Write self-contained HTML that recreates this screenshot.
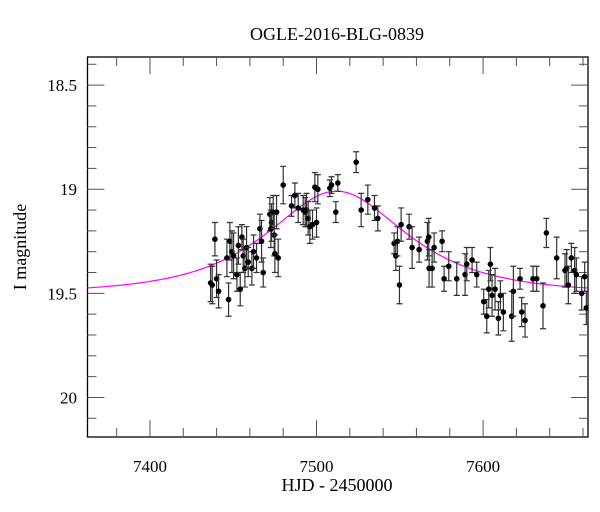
<!DOCTYPE html>
<html><head><meta charset="utf-8"><style>
body{margin:0;background:#fff}
svg{display:block;font-family:"Liberation Serif",serif}
</style></head><body>
<svg id="chart" width="600" height="512" xmlns="http://www.w3.org/2000/svg"></svg>
<script>
const hjd=[7439,7436.4,7437.4,7440,7441.2,7447.2,7446.2,7448,7449.2,7450.2,7452.2,7453.1,7454.2,7455.2,7456,7457,7458,7459,7461.2,7462.2,7464,7466,7467,7468,7472,7473,7472.6,7474,7474.6,7475,7476,7477,7480,7485,7487,7489,7492,7493.2,7494,7495,7496,7497.6,7499,7500,7500.8,7508,7509,7511.6,7512.8,7523.8,7526.8,7530.8,7534.8,7536.8,7546.6,7547.6,7548.6,7549.8,7550.8,7555.6,7557.4,7561.6,7566.6,7567.4,7567.6,7569.4,7570.6,7575.4,7576.6,7579.4,7584.2,7589.2,7590.2,7593.4,7596.2,7600.4,7602.2,7603.4,7604.4,7605.4,7607.2,7609.2,7610.4,7612.2,7617.2,7618.2,7622.2,7623.2,7625.2,7630,7632.2,7636,7638,7644.2,7649.2,7650.2,7651.2,7653,7655,7656,7659.2,7661,7662];
const mag=[19.24,19.45,19.46,19.43,19.49,19.53,19.33,19.25,19.30,19.32,19.41,19.27,19.48,19.23,19.32,19.38,19.28,19.35,19.38,19.30,19.33,19.19,19.25,19.40,19.12,19.16,19.19,19.11,19.22,19.31,19.11,19.33,18.98,19.08,19.03,19.09,19.10,19.11,19.10,19.14,19.18,19.17,18.99,19.16,19.00,18.995,18.98,19.11,18.97,18.87,19.10,19.05,19.09,19.14,19.26,19.32,19.25,19.46,19.17,19.18,19.28,19.29,19.25,19.23,19.38,19.38,19.28,19.25,19.43,19.37,19.43,19.41,19.36,19.34,19.41,19.54,19.61,19.48,19.36,19.51,19.48,19.62,19.51,19.59,19.61,19.49,19.43,19.59,19.63,19.43,19.43,19.56,19.21,19.33,19.39,19.38,19.46,19.33,19.39,19.41,19.50,19.42,19.57];
const err=[0.08,0.09,0.09,0.09,0.08,0.08,0.09,0.09,0.1,0.11,0.08,0.09,0.08,0.06,0.08,0.09,0.1,0.07,0.08,0.08,0.07,0.07,0.1,0.07,0.08,0.09,0.09,0.08,0.1,0.09,0.08,0.09,0.09,0.05,0.06,0.07,0.07,0.07,0.08,0.08,0.08,0.07,0.07,0.07,0.07,0.04,0.04,0.05,0.04,0.05,0.08,0.07,0.06,0.06,0.05,0.07,0.07,0.09,0.08,0.06,0.1,0.06,0.09,0.09,0.09,0.09,0.07,0.05,0.06,0.07,0.08,0.1,0.08,0.06,0.06,0.06,0.08,0.09,0.08,0.1,0.1,0.08,0.07,0.09,0.12,0.12,0.05,0.07,0.08,0.06,0.06,0.11,0.07,0.1,0.08,0.09,0.09,0.07,0.11,0.08,0.08,0.07,0.08];
const xTicks=[7400,7500,7600];
const yTicks=[18.5,19,19.5,20];
const modelT0=7512, modelU0=0.77, modelTE=58, modelBase=19.50;

const L=87.5,R=588,T=57,B=437;
const X0=7362.5,X1=7663,Y0=18.365,Y1=20.19;
const sx=v=>L+(v-X0)/(X1-X0)*(R-L);
const sy=v=>T+(v-Y0)/(Y1-Y0)*(B-T);
const NS="http://www.w3.org/2000/svg";
const svg=document.getElementById('chart');
function mk(tag,attrs,parent){const e=document.createElementNS(NS,tag);for(const k in attrs)e.setAttribute(k,attrs[k]);(parent||svg).appendChild(e);return e;}

// frame
const frame=mk('rect',{x:L,y:T,width:R-L,height:B-T,fill:'none',stroke:'#000','stroke-width':1.3});



// x ticks
for(let v=7380;v<=X1;v+=20){
  const major=v%100===0, len=major?17:9, x=sx(v);
  const t1=mk('line',{x1:x,y1:B,x2:x,y2:B-len,stroke:'#555','stroke-width':1});
  
  
  const t2=mk('line',{x1:x,y1:T,x2:x,y2:T+len,stroke:'#555','stroke-width':1});
  
  
}
xTicks.forEach(v=>{
  const t=mk('text',{x:sx(v),y:B+35,'text-anchor':'middle','font-size':17});
  t.textContent=v;
  
  
});
// y ticks
for(let i=0;;i++){
  const v=18.4+i*0.1; if(v>Y1)break;
  const major=Math.abs(v*2-Math.round(v*2))<1e-6, len=major?17:9, y=sy(v);
  const t1=mk('line',{x1:L,y1:y,x2:L+len,y2:y,stroke:'#555','stroke-width':1});
  
  
  const t2=mk('line',{x1:R,y1:y,x2:R-len,y2:y,stroke:'#555','stroke-width':1});
  
  
}
yTicks.forEach(v=>{
  const t=mk('text',{x:77,y:sy(v)+6,'text-anchor':'end','font-size':17});
  t.textContent=String(v);
  
  
});

// model
const clip=mk('clipPath',{id:'pc'});mk('rect',{x:L,y:T,width:R-L,height:B-T},clip);
let d='';
for(let t=X0;t<=X1;t+=1){
  const tau=(t-modelT0)/modelTE,u=Math.sqrt(modelU0*modelU0+tau*tau);
  const A=(u*u+2)/(u*Math.sqrt(u*u+4));
  const m=modelBase-2.5*Math.log10(A);
  d+=(d?'L':'M')+sx(t).toFixed(2)+','+sy(m).toFixed(2);
}
const model=mk('path',{d:d,fill:'none',stroke:'#f0f','stroke-width':1.2,'clip-path':'url(#pc)'});



// points
const g=mk('g',{'clip-path':'url(#pc)'});


hjd.forEach((t,i)=>{
  const x=sx(t),y=sy(mag[i]),y1=sy(mag[i]-err[i]),y2=sy(mag[i]+err[i]);
  const eb=mk('path',{d:`M${x},${y1}V${y2}M${x-3},${y1}H${x+3}M${x-3},${y2}H${x+3}`,stroke:'#333','stroke-width':1.2,fill:'none'},g);
  
  
  const c=mk('circle',{cx:x,cy:y,r:2.8,fill:'#000'},g);
  
  
});

// labels
const title=mk('text',{x:337,y:40,'text-anchor':'middle','font-size':18});
title.textContent='OGLE-2016-BLG-0839';


const xl=mk('text',{x:337,y:491,'text-anchor':'middle','font-size':18});
xl.textContent='HJD - 2450000';


const yl=mk('text',{x:26,y:247,'text-anchor':'middle','font-size':18,transform:'rotate(-90 26 247)'});
yl.textContent='I magnitude';


</script>
</body></html>
